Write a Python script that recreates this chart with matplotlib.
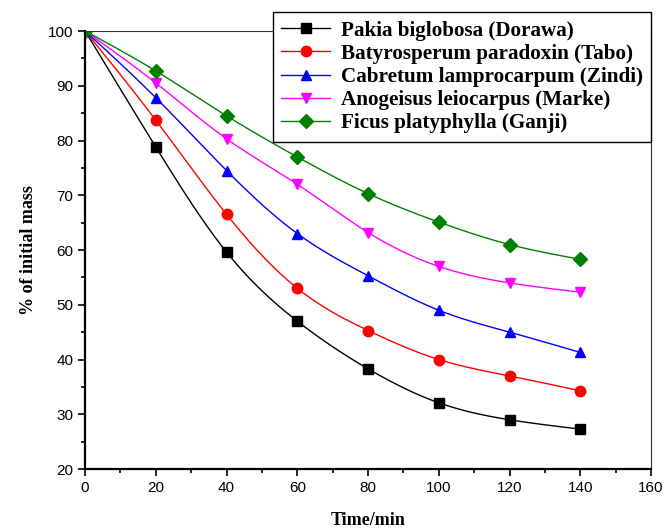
import numpy as np
import matplotlib.pyplot as plt
from matplotlib.ticker import MultipleLocator

time_min = [0, 20, 40, 60, 80, 100, 120, 140]
dorawa = [100, 78.8, 59.6, 47.0, 38.3, 32.1, 29.0, 27.3]
tabo = [100, 83.7, 66.5, 53.0, 45.3, 40.0, 37.0, 34.3]
zindi = [100, 87.8, 74.5, 63.0, 55.3, 49.0, 45.0, 41.3]
marke = [100, 90.5, 80.3, 72.0, 63.2, 57.0, 54.0, 52.3]
ganji = [100, 92.7, 84.5, 77.0, 70.3, 65.1, 61.0, 58.3]

labels = ['Pakia biglobosa (Dorawa)', 'Batyrosperum paradoxin (Tabo)',
          'Cabretum lamprocarpum (Zindi)', 'Anogeisus leiocarpus (Marke)',
          'Ficus platyphylla (Ganji)']
colors = ['black', 'red', 'blue', 'magenta', 'green']
markers = ['s', 'o', '^', 'v', 'D']


def smooth(x, y, n=200):
    # natural cubic spline through the points, for the drawn line only
    x = np.asarray(x, float)
    y = np.asarray(y, float)
    h = np.diff(x)
    m = len(x)
    A = np.zeros((m, m))
    b = np.zeros(m)
    A[0, 0] = A[-1, -1] = 1
    for i in range(1, m - 1):
        A[i, i - 1] = h[i - 1]
        A[i, i] = 2 * (h[i - 1] + h[i])
        A[i, i + 1] = h[i]
        b[i] = 6 * ((y[i + 1] - y[i]) / h[i] - (y[i] - y[i - 1]) / h[i - 1])
    M = np.linalg.solve(A, b)
    xs = np.linspace(x[0], x[-1], n)
    k = np.clip(np.searchsorted(x, xs) - 1, 0, m - 2)
    t0 = x[k + 1] - xs
    t1 = xs - x[k]
    hk = h[k]
    ys = (M[k] * t0 ** 3 + M[k + 1] * t1 ** 3) / (6 * hk) \
        + (y[k] / hk - M[k] * hk / 6) * t0 + (y[k + 1] / hk - M[k + 1] * hk / 6) * t1
    return xs, ys


fig = plt.figure(figsize=(6.65, 5.3), dpi=100)
ax = fig.add_axes([0.128, 0.115, 0.851, 0.8265])

for ys, lab, c, mk in zip([dorawa, tabo, zindi, marke, ganji], labels, colors, markers):
    sx, sy = smooth(time_min, ys)
    ax.plot(sx, sy, color=c, lw=1)
    ax.plot(time_min, ys, ls='', marker=mk, color=c, ms=7.5)
    ax.plot([], [], color=c, lw=1, marker=mk, ms=7.5, label=lab)

ax.set_xlim(0, 160)
ax.set_ylim(20, 100)
ax.xaxis.set_major_locator(MultipleLocator(20))
ax.xaxis.set_minor_locator(MultipleLocator(10))
ax.yaxis.set_major_locator(MultipleLocator(10))
ax.yaxis.set_minor_locator(MultipleLocator(5))
ax.tick_params(which='both', direction='out', labelsize=11, width=1.2)
ax.tick_params(which='major', length=5)
ax.tick_params(which='minor', length=3)
for lab in ax.get_xticklabels() + ax.get_yticklabels():
    lab.set_family('Liberation Sans')
ax.spines['left'].set_linewidth(1.6)
ax.spines['bottom'].set_linewidth(1.6)
ax.spines['top'].set_linewidth(0.8)
ax.spines['right'].set_linewidth(0.8)
ax.spines['top'].set_color('#333333')
ax.spines['right'].set_color('#333333')

ax.set_xlabel('Time/min', family='Liberation Serif', weight='bold', fontsize=13, labelpad=12)
ax.set_ylabel('% of initial mass', family='Liberation Serif', weight='bold', fontsize=13, labelpad=8)

leg = fig.legend(loc='upper right', bbox_to_anchor=(0.979, 0.977), borderaxespad=0,
                 fancybox=False, edgecolor='black', framealpha=1, handlelength=2.3,
                 labelspacing=0.15, borderpad=0.4, handletextpad=0.5,
                 prop={'family': 'Liberation Serif', 'weight': 'bold', 'size': 15.2})
leg.get_frame().set_linewidth(1)

fig.savefig('out.png', dpi=100)
